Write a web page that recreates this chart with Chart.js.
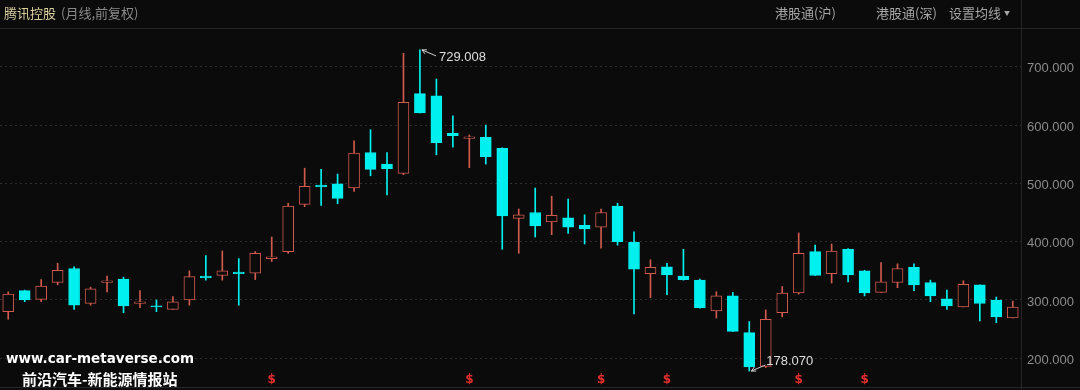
<!DOCTYPE html>
<html>
<head>
<meta charset="utf-8">
<script src="https://cdn.jsdelivr.net/npm/chart.js@4.4.1/dist/chart.umd.min.js"></script>
<style>
html,body{margin:0;padding:0;background:#0b0b0b;}
#wrap{position:relative;width:1080px;height:390px;overflow:hidden;background:#0b0b0b;font-family:"Noto Sans CJK SC",sans-serif;}
#wrap canvas{position:absolute;left:0;top:0;}
.t{position:absolute;font-size:13px;line-height:16px;white-space:nowrap;}
.wm{position:absolute;color:#fff;font-weight:bold;white-space:nowrap;}
</style>
</head>
<body>
<div id="wrap">
<canvas id="k" width="1080" height="390"></canvas>
<div class="t" style="left:4px;top:5px;color:#d8ce9e">腾讯控股</div>
<div class="t" style="left:61px;top:5px;color:#8a8a8a">(月线,前复权)</div>
<div class="t" style="left:775px;top:5px;color:#a6a6a6">港股通(沪)</div>
<div class="t" style="left:876px;top:5px;color:#a6a6a6">港股通(深)</div>
<div class="t" style="left:949px;top:5px;color:#a6a6a6">设置均线 <span style="font-size:6px;position:relative;top:-3px">▼</span></div>
<div class="wm" style="left:6px;top:350px;font-family:'DejaVu Sans';font-size:13.5px;">www.car-metaverse.com</div>
<div class="wm" style="left:22px;top:369px;font-family:'Noto Sans CJK SC';font-size:15px;line-height:20px;">前沿汽车-新能源情报站</div>
</div>
<script>
// monthly bars, Jan 2019 .. Feb 2024
const months = [
  '2019-01','2019-02','2019-03','2019-04','2019-05','2019-06','2019-07','2019-08','2019-09','2019-10','2019-11','2019-12',
  '2020-01','2020-02','2020-03','2020-04','2020-05','2020-06','2020-07','2020-08','2020-09','2020-10','2020-11','2020-12',
  '2021-01','2021-02','2021-03','2021-04','2021-05','2021-06','2021-07','2021-08','2021-09','2021-10','2021-11','2021-12',
  '2022-01','2022-02','2022-03','2022-04','2022-05','2022-06','2022-07','2022-08','2022-09','2022-10','2022-11','2022-12',
  '2023-01','2023-02','2023-03','2023-04','2023-05','2023-06','2023-07','2023-08','2023-09','2023-10','2023-11','2023-12',
  '2024-01','2024-02'
]
const opens  = [280,316,301,330,354,294,330,336,294,290,284,300, 341,342,348,346,371,383,464,497,499,492,553,533,
                517,654,650,586,577,579,560,440,450,434,441,428, 425,461,399,345,357,341,334,281,307,244,186,278,
                312,383,345,387,350,313,330,356,330,302,288,326, 300,269]
const highs  = [314,317,335,363,357,322,341,339,316,300,306,350, 376,384,371,383,408,466,526,524,516,573,592,553,
                723,729.008,679,616,583,600,561,456,492,478,473,446, 456,466,417,369,363,387,336,314,313,263,283,323,
                415,394,396,388,351,364,362,362,334,317,333,326, 305,298]
const lows   = [267,297,297,326,284,291,314,278,287,280,284,291, 334,334,291,335,366,380,460,462,465,486,513,480,
                515,621,549,562,527,533,387,380,408,412,414,396, 389,394,276,304,309,334,286,269,246,178.07,184,271,
                310,342,329,331,307,313,321,316,297,284,288,264, 261,269]
const closes = [310,300,324,351,291,319,333,290,297,288,297,340, 338,350,345,380,374,461,495,494,474,552,524,525,
                639,621,570,582,580,546,444,446,427,445,425,422, 450,400,353,356,343,335,287,307,246,185,267,312,
                380,342,384,343,312,331,354,326,307,290,327,294, 271,288]
const dividendMonths = ['2020-05','2021-05','2022-01','2022-05','2023-01','2023-05']
const yTicks = [200,300,400,500,600,700]

const upColor = '#d05a4e'
const downColor = '#00f0f0'
const bgColor = '#0b0b0b'

const isUp = opens.map((o,i) => closes[i] >= o)
const candleColor = isUp.map(u => u ? upColor : downColor)

const wicks = lows.map((l,i) => [l, highs[i]])
const bodies = opens.map((o,i) => [o, closes[i]])

const framePlugin = {
  id: 'frame',
  beforeDraw(chart) {
    const ctx = chart.ctx, a = chart.chartArea
    ctx.save()
    ctx.strokeStyle = '#262626'
    ctx.lineWidth = 1
    ctx.beginPath()
    ctx.moveTo(0, 28.5); ctx.lineTo(1080, 28.5)
    ctx.moveTo(0, 387.5); ctx.lineTo(1080, 387.5)
    ctx.moveTo(Math.round(a.right) + 0.5, 0); ctx.lineTo(Math.round(a.right) + 0.5, 390)
    ctx.stroke()
    ctx.restore()
  },
  afterDraw(chart) {
    const ctx = chart.ctx, xs = chart.scales.x, ys = chart.scales.y
    ctx.save()
    // highest / lowest markers
    const hi = Math.max(...highs), hiIdx = highs.indexOf(hi)
    const lo = Math.min(...lows), loIdx = lows.indexOf(lo)
    ctx.strokeStyle = '#cfcfcf'
    ctx.fillStyle = '#dedede'
    ctx.lineWidth = 1
    ctx.font = '13px "Liberation Sans"'
    ctx.textBaseline = 'middle'
    ctx.textAlign = 'left'
    let px = xs.getPixelForValue(hiIdx), py = ys.getPixelForValue(hi)
    ctx.beginPath()
    ctx.moveTo(px + 2, py); ctx.lineTo(px + 16, py + 6)
    ctx.moveTo(px + 2, py); ctx.lineTo(px + 7, py)
    ctx.moveTo(px + 2, py); ctx.lineTo(px + 5, py + 4)
    ctx.stroke()
    ctx.fillText(hi.toFixed(3), px + 19, py + 8)
    px = xs.getPixelForValue(loIdx); py = ys.getPixelForValue(lo)
    ctx.beginPath()
    ctx.moveTo(px + 2, py); ctx.lineTo(px + 16, py - 6)
    ctx.moveTo(px + 2, py); ctx.lineTo(px + 7, py)
    ctx.moveTo(px + 2, py); ctx.lineTo(px + 5, py - 4)
    ctx.stroke()
    ctx.fillText(lo.toFixed(3), px + 17, py - 10)
    // dividend marks
    ctx.fillStyle = '#e62e2e'
    ctx.font = 'bold 12px "DejaVu Sans"'
    ctx.textAlign = 'center'
    dividendMonths.forEach(m => {
      const i = months.indexOf(m)
      ctx.fillText('$', xs.getPixelForValue(i), 380)
    })
    ctx.restore()
  }
}

new Chart('k', {
  type: 'bar',
  data: {
    labels: months,
    datasets: [
      {
        label: 'wick',
        data: wicks,
        backgroundColor: candleColor,
        borderWidth: 0,
        barThickness: 1,
        grouped: false,
        order: 2
      },
      {
        label: 'body',
        data: bodies,
        backgroundColor: isUp.map(u => u ? bgColor : downColor),
        borderColor: candleColor,
        borderWidth: 1,
        borderSkipped: false,
        barThickness: 11,
        grouped: false,
        order: 1
      }
    ]
  },
  options: {
    responsive: false,
    animation: false,
    layout: { padding: { top: 28, bottom: 2, left: 0, right: 0 } },
    plugins: { legend: { display: false }, tooltip: { enabled: false } },
    scales: {
      x: { display: false, offset: true },
      y: {
        position: 'right',
        min: 149,
        max: 766.5,
        afterBuildTicks: s => { s.ticks = yTicks.map(v => ({ value: v })) },
        afterFit: s => { s.width = 59; s.paddingTop = 0; s.paddingBottom = 0 },
        ticks: {
          color: '#8c8c8c',
          padding: 6,
          labelOffset: 2,
          font: { family: 'Liberation Sans', size: 13 },
          callback: v => Number(v).toFixed(3)
        },
        grid: { color: '#2e2e2e', drawTicks: false, lineWidth: 1 },
        border: { display: false, dash: [2, 3] }
      }
    }
  },
  plugins: [framePlugin]
})
</script>
</body>
</html>
